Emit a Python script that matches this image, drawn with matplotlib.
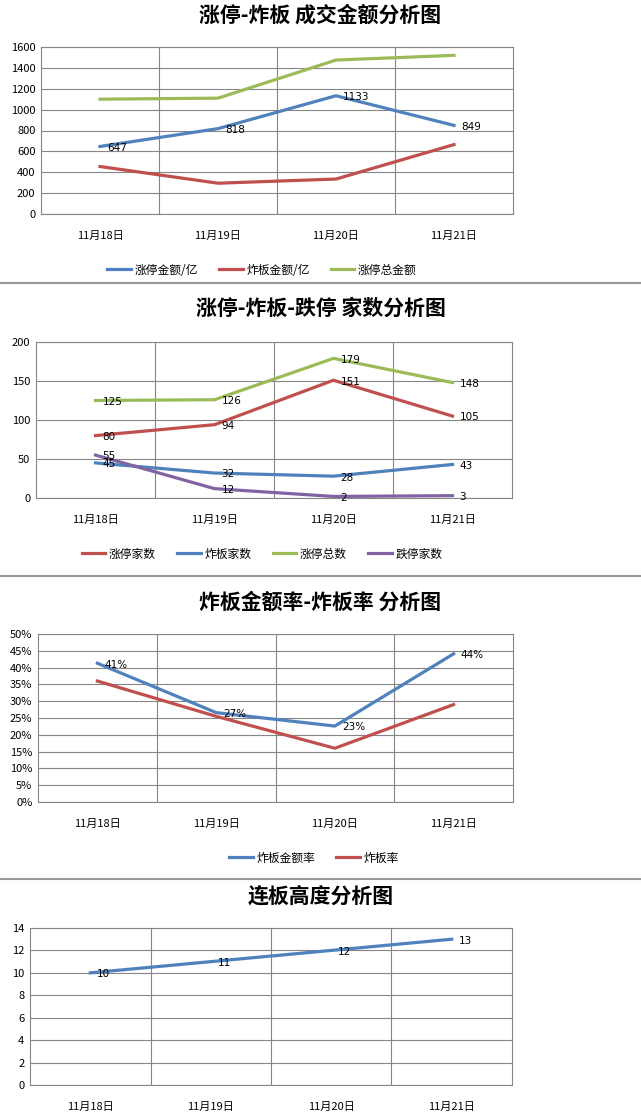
import matplotlib.pyplot as plt
from matplotlib.lines import Line2D
from matplotlib.ticker import FuncFormatter

plt.rcParams['font.family'] = ['Noto Sans CJK SC', 'DejaVu Sans']

dates = ["11月18日", "11月19日", "11月20日", "11月21日"]

# panel 1: amounts
zt_amount = [647, 818, 1133, 849]
zb_amount = [455, 295, 335, 665]
zt_total_amount = [1100, 1110, 1475, 1520]

# panel 2: counts
zt_count = [80, 94, 151, 105]
zb_count = [45, 32, 28, 43]
zt_total = [125, 126, 179, 148]
dt_count = [55, 12, 2, 3]

# panel 3: rates (%)
zb_amount_rate = [41.3, 26.6, 22.6, 44.1]
zb_rate = [36.0, 25.5, 16.0, 29.0]

# panel 4: height
lb_height = [10, 11, 12, 13]

BLUE = "#4F81BD"
RED = "#C0504D"
GREEN = "#9BBB59"
PURPLE = "#8064A2"
GRID = "#868686"

W, H = 641, 1115
fig = plt.figure(figsize=(W / 100, H / 100), dpi=100)


def make_ax(left, top, right, bottom):
    ax = fig.add_axes([left / W, 1 - bottom / H, (right - left) / W, (bottom - top) / H])
    ax.set_xlim(-0.5, 3.5)
    ax.set_xticks(range(4))
    ax.set_xticklabels(dates, fontsize=8)
    ax.set_xticks([0.5, 1.5, 2.5], minor=True)
    ax.grid(True, which="minor", axis="x", color=GRID, lw=0.8)
    ax.grid(True, which="major", axis="y", color=GRID, lw=0.8)
    ax.set_axisbelow(True)
    ax.tick_params(length=0, which="both")
    ax.tick_params(axis="x", pad=12)
    ax.tick_params(axis="y", labelsize=8, pad=4)
    for s in ax.spines.values():
        s.set_color(GRID)
        s.set_linewidth(0.8)
    return ax


def title(y, text):
    fig.text(0.5, 1 - y / H, text, ha="center", va="center", fontsize=15,
             fontweight="bold")


def labels(ax, vals, fmt="{:d}", dy=-1):
    for i, v in enumerate(vals):
        ax.annotate(fmt.format(v) if "%" not in fmt else fmt.format(round(v)),
                    (i, v), xytext=(5, dy), textcoords="offset points",
                    ha="left", va="center", fontsize=7.5, family="DejaVu Sans")


def legend(ax, cx, y, ncol):
    ax.legend(loc="center", bbox_to_anchor=(cx / W, 1 - y / H),
              bbox_transform=fig.transFigure, ncol=ncol, frameon=False,
              fontsize=8.5, handlelength=2.0, columnspacing=1.8, handletextpad=0.3)


def sep(y):
    fig.add_artist(Line2D([0, 1], [1 - y / H, 1 - y / H], color="#999999", lw=1.5))


lw = 2.3

# ---- panel 1
title(15, "涨停-炸板 成交金额分析图")
ax1 = make_ax(41, 47, 513, 214)
ax1.set_ylim(0, 1600)
ax1.set_yticks(range(0, 1601, 200))
ax1.plot(range(4), zt_amount, color=BLUE, lw=lw, label="涨停金额/亿")
ax1.plot(range(4), zb_amount, color=RED, lw=lw, label="炸板金额/亿")
ax1.plot(range(4), zt_total_amount, color=GREEN, lw=lw, label="涨停总金额")
labels(ax1, zt_amount)
legend(ax1, 262, 270, 3)
sep(283)

# ---- panel 2
title(308, "涨停-炸板-跌停 家数分析图")
ax2 = make_ax(36, 342, 512, 498)
ax2.set_ylim(0, 200)
ax2.set_yticks(range(0, 201, 50))
ax2.plot(range(4), zt_count, color=RED, lw=lw, label="涨停家数")
ax2.plot(range(4), zb_count, color=BLUE, lw=lw, label="炸板家数")
ax2.plot(range(4), zt_total, color=GREEN, lw=lw, label="涨停总数")
ax2.plot(range(4), dt_count, color=PURPLE, lw=lw, label="跌停家数")
for vals in (zt_count, zb_count, zt_total, dt_count):
    labels(ax2, vals)
legend(ax2, 262, 554, 4)
sep(576)

# ---- panel 3
title(602, "炸板金额率-炸板率 分析图")
ax3 = make_ax(38, 634, 513, 802)
ax3.set_ylim(0, 50)
ax3.set_yticks(range(0, 51, 5))
ax3.yaxis.set_major_formatter(FuncFormatter(lambda v, p: f"{v:.0f}%"))
ax3.plot(range(4), zb_amount_rate, color=BLUE, lw=lw, label="炸板金额率")
ax3.plot(range(4), zb_rate, color=RED, lw=lw, label="炸板率")
labels(ax3, zb_amount_rate, fmt="{:d}%")
legend(ax3, 314, 858, 2)
sep(879)

# ---- panel 4
title(896, "连板高度分析图")
ax4 = make_ax(30, 928, 512, 1085)
ax4.set_ylim(0, 14)
ax4.set_yticks(range(0, 15, 2))
ax4.plot(range(4), lb_height, color=BLUE, lw=lw)
labels(ax4, lb_height)

fig.savefig("out.png", dpi=100)
